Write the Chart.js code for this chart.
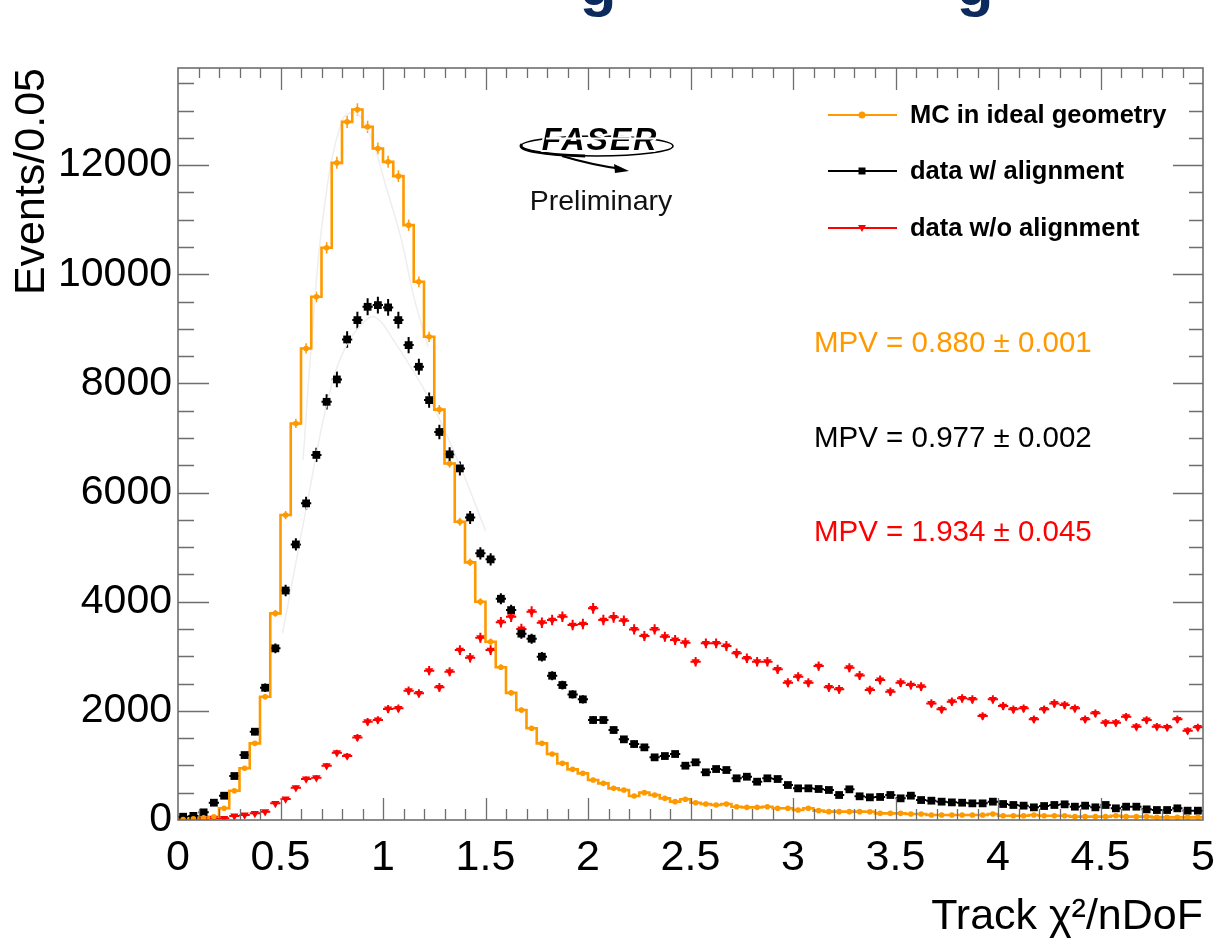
<!DOCTYPE html>
<html>
<head>
<meta charset="utf-8">
<script src="https://cdn.jsdelivr.net/npm/chart.js@4.4.0/dist/chart.umd.min.js"></script>
<style>
    html, body { margin: 0; padding: 0; background: #fff; }
    #wrap { width: 1214px; height: 943px; }
</style>
</head>
<body>
<div id="wrap"><canvas id="chiChart" width="1214" height="943"></canvas></div>
<script>
// histogram bins: 100 bins of 0.05 from 0 to 5
const binWidth = 0.05;

const mcCounts = [
    10, 20, 40, 60, 214, 537, 947, 1405, 2259, 3786,
    5588, 7267, 8641, 9587, 10485, 12042, 12793, 13020, 12701, 12305,
    12060, 11798, 10900, 9862, 8854, 7520, 6534, 5466, 4721, 4000,
    3267, 2800, 2330, 2015, 1680, 1405, 1209, 1038, 928, 855,
    733, 672, 580, 550, 440, 501, 458, 397, 336, 379,
    317, 293, 275, 293, 244, 232, 232, 244, 214, 214,
    183, 214, 171, 153, 153, 153, 153, 150, 122, 122,
    122, 110, 110, 92, 92, 92, 92, 92, 92, 110,
    79, 79, 79, 92, 79, 79, 79, 61, 61, 61,
    61, 79, 61, 61, 61, 49, 49, 49, 49, 49
];

const alignedCounts = [
    60, 75, 140, 317, 445, 806, 1190, 1618, 2424, 3145,
    4205, 5050, 5802, 6690, 7663, 8073, 8806, 9160, 9404, 9435,
    9393, 9160, 8702, 8305, 7694, 7110, 6700, 6443, 5545, 4886,
    4776, 4054, 3847, 3415, 3322, 2992, 2644, 2473, 2302, 2211,
    1832, 1832, 1649, 1478, 1392, 1331, 1148, 1172, 1209, 995,
    1057, 874, 934, 916, 764, 793, 702, 764, 751, 641,
    580, 580, 568, 550, 458, 562, 434, 415, 422, 458,
    397, 446, 366, 354, 336, 323, 317, 305, 305, 336,
    293, 275, 263, 232, 256, 275, 287, 244, 263, 232,
    275, 214, 244, 244, 195, 183, 183, 214, 171, 171
];

const unalignedCounts = [
    0, 5, 15, 31, 31, 73, 92, 122, 153, 305,
    385, 592, 751, 776, 995, 1233, 1172, 1514, 1801, 1832,
    2034, 2046, 2369, 2321, 2736, 2431, 2717, 3114, 2973, 3340,
    3114, 3625, 3725, 3500, 3816, 3615, 3664, 3725, 3572, 3591,
    3878, 3664, 3713, 3652, 3493, 3371, 3493, 3359, 3298, 3249,
    2900, 3237, 3237, 3188, 3054, 2962, 2900, 2900, 2761, 2515,
    2625, 2515, 2821, 2431, 2394, 2790, 2647, 2382, 2565, 2351,
    2516, 2473, 2443, 2137, 2028, 2168, 2229, 2211, 1905, 2211,
    2088, 2028, 2046, 1845, 2028, 2137, 2107, 2046, 1845, 1955,
    1783, 1783, 1893, 1710, 1832, 1710, 1698, 1845, 1637, 1698
];

// faint Landau fit curves
const mcFitX = [0.61, 0.65, 0.71, 0.80, 0.87, 0.94, 1.02, 1.09, 1.15, 1.22];
const mcFitY = [6600, 8670, 11120, 12820, 12950, 12520, 11540, 10630, 9590, 8670];
const dataFitX = [0.51, 0.63, 0.73, 0.81, 0.90, 0.96, 1.05, 1.23, 1.38, 1.50];
const dataFitY = [3420, 5800, 7690, 8610, 9100, 9220, 8800, 7690, 6450, 5300];

const xTickValues = [0, 0.5, 1, 1.5, 2, 2.5, 3, 3.5, 4, 4.5, 5];
const yTickValues = [0, 2000, 4000, 6000, 8000, 10000, 12000];

const mpvLabels = ["MPV = 0.880 \u00B1 0.001", "MPV = 0.977 \u00B1 0.002", "MPV = 1.934 \u00B1 0.045"];
const legendLabels = ["MC in ideal geometry", "data w/ alignment", "data w/o alignment"];

const ORANGE = "#ff9900";
const RED = "#ff0000";
const FONT = "'Liberation Sans', Arial, Helvetica, sans-serif";

const toPoints = (counts) => counts.map((c, i) => ({ x: (i + 0.5) * binWidth, y: c }));
const stepPoints = (counts) => {
    const pts = [];
    counts.forEach((c, i) => {
        pts.push({ x: i * binWidth, y: c });
        pts.push({ x: (i + 1) * binWidth, y: c });
    });
    return pts;
};
const zipXY = (xs, ys) => xs.map((x, i) => ({ x: x, y: ys[i] }));

// sqrt(N) vertical and bin-width horizontal error bars
const errorBars = {
    id: "errorBars",
    beforeDatasetsDraw(chart) {
        const { ctx, scales: { x, y } } = chart;
        ctx.save();
        ctx.beginPath();
        ctx.rect(chart.chartArea.left, chart.chartArea.top, chart.chartArea.width, chart.chartArea.height);
        ctx.clip();
        chart.data.datasets.forEach((ds) => {
            if (!ds.errorBars) return;
            ctx.strokeStyle = ds.backgroundColor;
            ctx.lineWidth = ds.errorWidth || 2;
            ctx.beginPath();
            ds.data.forEach((p) => {
                if (p.y <= 0) return;
                const err = ds.errorScale * Math.sqrt(p.y);
                const px = x.getPixelForValue(p.x);
                const py = y.getPixelForValue(p.y);
                ctx.moveTo(x.getPixelForValue(p.x - binWidth / 2), py);
                ctx.lineTo(x.getPixelForValue(p.x + binWidth / 2), py);
                ctx.moveTo(px, y.getPixelForValue(p.y - err));
                ctx.lineTo(px, y.getPixelForValue(p.y + err));
            });
            ctx.stroke();
        });
        ctx.restore();
    },
};

function drawMarker(ctx, style, cx, cy, color) {
    ctx.fillStyle = color;
    ctx.beginPath();
    if (style === "circle") {
        ctx.arc(cx, cy, 3.5, 0, Math.PI * 2);
    } else if (style === "rect") {
        ctx.rect(cx - 3.5, cy - 3.5, 7, 7);
    } else {
        ctx.moveTo(cx - 4, cy - 3);
        ctx.lineTo(cx + 4, cy - 3);
        ctx.lineTo(cx, cy + 4);
        ctx.closePath();
    }
    ctx.fill();
}

function drawLogo(ctx) {
    // ellipse swoosh behind the lettering
    ctx.strokeStyle = "#000";
    ctx.lineWidth = 1.6;
    ctx.beginPath();
    ctx.ellipse(597, 146, 76, 10, 0, 0, Math.PI * 2);
    ctx.stroke();
    ctx.lineWidth = 3;
    ctx.beginPath();
    ctx.ellipse(597, 146, 76, 10, 0, Math.PI * 0.55, Math.PI * 1.05);
    ctx.stroke();
    // arrow
    ctx.lineWidth = 2.2;
    ctx.beginPath();
    ctx.moveTo(562, 156);
    ctx.quadraticCurveTo(592, 165, 622, 169);
    ctx.stroke();
    ctx.fillStyle = "#000";
    ctx.beginPath();
    ctx.moveTo(629, 171);
    ctx.lineTo(614, 164);
    ctx.lineTo(615, 173);
    ctx.closePath();
    ctx.fill();
    // lettering with a white outline cutting the ellipse
    ctx.font = "italic bold 32px " + FONT;
    ctx.textAlign = "center";
    ctx.textBaseline = "alphabetic";
    if ("letterSpacing" in ctx) ctx.letterSpacing = "2px";
    ctx.strokeStyle = "#fff";
    ctx.lineWidth = 4;
    ctx.lineJoin = "round";
    ctx.strokeText("FASER", 600, 150);
    ctx.fillStyle = "#000";
    ctx.fillText("FASER", 600, 150);
    if ("letterSpacing" in ctx) ctx.letterSpacing = "0px";
    ctx.strokeStyle = "#fff";
    ctx.lineWidth = 2;
    ctx.beginPath();
    ctx.moveTo(546, 138.5);
    ctx.lineTo(656, 138.5);
    ctx.stroke();
}

// frame, inside ticks, legend, logo and annotations
const decorations = {
    id: "decorations",
    afterDraw(chart) {
        const { ctx, chartArea: a, scales: { x, y } } = chart;
        ctx.save();

        // ticks inside the frame on all four sides
        ctx.strokeStyle = "#6e6e6e";
        ctx.lineWidth = 1.3;
        ctx.beginPath();
        for (let k = 1; k < 50; k++) {
            const px = Math.round(x.getPixelForValue(k / 10)) + 0.5;
            const major = k % 5 === 0;
            ctx.moveTo(px, a.bottom);
            ctx.lineTo(px, a.bottom - (major ? 22 : 11));
            ctx.moveTo(px, a.top);
            ctx.lineTo(px, a.top + (major ? 22 : 10));
        }
        for (let v = 500; v < y.max; v += 500) {
            const py = Math.round(y.getPixelForValue(v)) + 0.5;
            const major = v % 2000 === 0;
            ctx.moveTo(a.left, py);
            ctx.lineTo(a.left + (major ? 31 : 16), py);
            ctx.moveTo(a.right, py);
            ctx.lineTo(a.right - (major ? 30 : 14), py);
        }
        ctx.stroke();
        ctx.lineWidth = 1.6;
        ctx.strokeRect(a.left, a.top, a.right - a.left, a.bottom - a.top);

        // legend
        const rows = [
            { y: 115, color: ORANGE, style: "circle" },
            { y: 171, color: "#000", style: "rect" },
            { y: 228, color: RED, style: "triangle" },
        ];
        ctx.font = "bold 25.5px " + FONT;
        ctx.textBaseline = "middle";
        ctx.textAlign = "left";
        rows.forEach((r, i) => {
            ctx.strokeStyle = r.color;
            ctx.lineWidth = 2;
            ctx.beginPath();
            ctx.moveTo(828, r.y);
            ctx.lineTo(897, r.y);
            ctx.stroke();
            drawMarker(ctx, r.style, 862, r.y, r.color);
            ctx.fillStyle = "#000";
            ctx.fillText(legendLabels[i], 910, r.y + 1);
        });

        // MPV annotations
        ctx.font = "29.5px " + FONT;
        [ORANGE, "#000", RED].forEach((c, i) => {
            ctx.fillStyle = c;
            ctx.fillText(mpvLabels[i], 814, [344, 439, 533][i]);
        });

        drawLogo(ctx);

        ctx.font = "28.5px " + FONT;
        ctx.textAlign = "center";
        ctx.textBaseline = "alphabetic";
        ctx.fillStyle = "#111";
        ctx.fillText("Preliminary", 601, 210);

        // bottom of the slide title, cut by the image edge
        ctx.font = "bold 60px " + FONT;
        ctx.fillStyle = "#0d2a5c";
        ctx.fillText("g", 598, 5);
        ctx.fillText("g", 975, 5);
        ctx.restore();
    },
};

const ctx = document.getElementById("chiChart").getContext("2d");
new Chart(ctx, {
    type: "scatter",
    data: {
        datasets: [
            {
                label: "MC in ideal geometry",
                data: toPoints(mcCounts),
                pointStyle: "circle",
                pointRadius: 2.8,
                backgroundColor: ORANGE,
                borderWidth: 0,
                errorBars: true,
                errorScale: 1,
                errorWidth: 1.5,
            },
            {
                label: "data w/ alignment",
                data: toPoints(alignedCounts),
                pointStyle: "rect",
                pointRadius: 5.5,
                backgroundColor: "#000",
                borderWidth: 0,
                errorBars: true,
                errorScale: 1.6,
                errorWidth: 2,
            },
            {
                label: "data w/o alignment",
                data: toPoints(unalignedCounts),
                pointStyle: "triangle",
                pointRotation: 180,
                pointRadius: 4.8,
                backgroundColor: RED,
                borderWidth: 0,
                errorBars: true,
                errorScale: 1.6,
                errorWidth: 2,
            },
            {
                label: "MC histogram",
                data: stepPoints(mcCounts),
                showLine: true,
                pointRadius: 0,
                borderColor: ORANGE,
                borderWidth: 2.6,
                backgroundColor: ORANGE,
            },
            {
                label: "MC fit",
                data: zipXY(mcFitX, mcFitY),
                showLine: true,
                pointRadius: 0,
                tension: 0.4,
                borderColor: "#eeeeee",
                borderWidth: 1.5,
            },
            {
                label: "data fit",
                data: zipXY(dataFitX, dataFitY),
                showLine: true,
                pointRadius: 0,
                tension: 0.4,
                borderColor: "#eeeeee",
                borderWidth: 1.5,
            },
        ],
    },
    options: {
        responsive: false,
        animation: false,
        devicePixelRatio: 1,
        layout: { padding: { top: 68, right: 11, left: 0, bottom: 0 } },
        plugins: {
            legend: { display: false },
            tooltip: { enabled: false },
        },
        scales: {
            x: {
                type: "linear",
                min: 0,
                max: 5,
                afterBuildTicks: (s) => { s.ticks = xTickValues.map((v) => ({ value: v })); },
                afterFit: (s) => {
                    s.height = 123;
                    s.paddingLeft = 0;
                    s.paddingRight = 0;
                },
                grid: { display: false, drawTicks: false },
                border: { display: false },
                ticks: {
                    padding: 12,
                    color: "#000",
                    maxRotation: 0,
                    autoSkip: false,
                    font: { family: FONT, size: 43 },
                    callback: (v) => String(v),
                },
                title: {
                    display: true,
                    text: "Track \u03C7\u00B2/nDoF",
                    align: "end",
                    color: "#000",
                    font: { family: FONT, size: 43 },
                    padding: { top: 0, bottom: 0 },
                },
            },
            y: {
                type: "linear",
                min: 0,
                max: 13780,
                afterBuildTicks: (s) => { s.ticks = yTickValues.map((v) => ({ value: v })); },
                afterFit: (s) => {
                    s.width = 178;
                    s.paddingTop = 0;
                    s.paddingBottom = 0;
                },
                grid: { display: false, drawTicks: false },
                border: { display: false },
                ticks: {
                    padding: 6,
                    color: "#000",
                    autoSkip: false,
                    font: { family: FONT, size: 41 },
                    callback: (v) => String(v),
                },
                title: {
                    display: true,
                    text: "Events/0.05",
                    align: "end",
                    color: "#000",
                    font: { family: FONT, size: 43 },
                    padding: { top: 6, bottom: 0 },
                },
            },
        },
    },
    plugins: [errorBars, decorations],
});
</script>
</body>
</html>
